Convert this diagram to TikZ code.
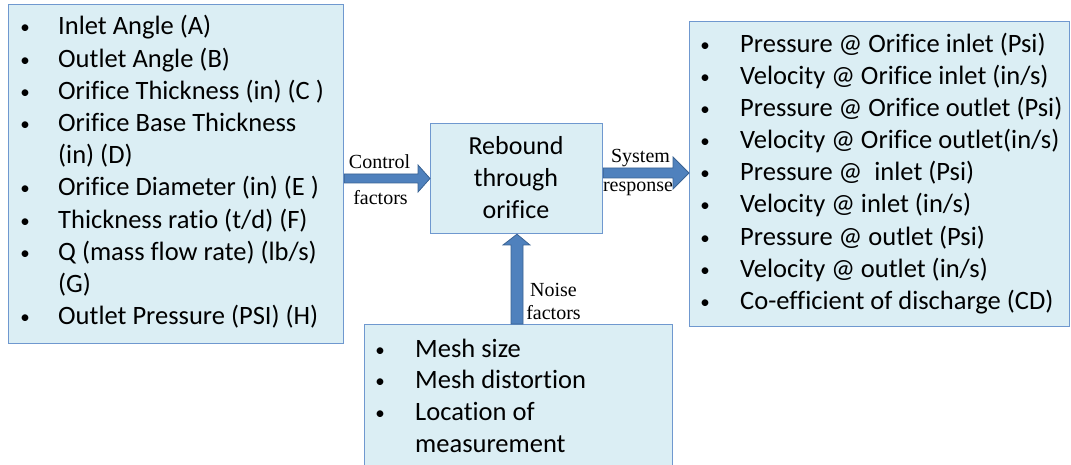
\documentclass[tikz,border=0pt]{standalone}
\usepackage{fontspec}
\setmainfont{Carlito}[Ligatures=NoCommon]
\newfontfamily\timesfont{Liberation Serif}
\definecolor{boxfill}{HTML}{DBEEF4}
\definecolor{boxline}{HTML}{6F98CF}
\definecolor{arrfill}{HTML}{4F81BD}
\definecolor{arrline}{HTML}{3A6393}
\begin{document}
\begin{tikzpicture}[x=1pt,y=-1pt,
  box/.style={draw=boxline, fill=boxfill, line width=1.2pt, inner sep=0pt, anchor=north west},
  item/.style={anchor=base west, inner sep=0pt, font=\fontsize{26.5}{31}\selectfont},
  bul/.style={anchor=base, inner sep=0pt, font=\fontsize{19}{31}\selectfont},
  ctr/.style={anchor=base, inner sep=0pt, font=\fontsize{26}{31}\selectfont},
  lbl/.style={anchor=base, inner sep=0pt, font=\timesfont\fontsize{20}{24}\selectfont},
  blk/.style={draw=arrline, fill=arrfill, line width=0.8pt, line join=miter}]
\useasboundingbox (0,0) rectangle (1071,465);
% boxes
\node[box, minimum width=335pt, minimum height=339pt] (L) at (8,4) {};
\node[box, minimum width=172pt, minimum height=110pt] (C) at (430,123) {};
\node[box, minimum width=380pt, minimum height=305pt] (R) at (689,21) {};
\node[box, minimum width=308pt, minimum height=160pt] (B) at (364,324) {};
% left list
\foreach \t [count=\i] in {{Inlet Angle (A)},{Outlet Angle (B)},{Orifice Thickness (in) (C )},{Orifice Base Thickness},{(in) (D)},{Orifice Diameter (in) (E )},{Thickness ratio (t/d) (F)},{Q (mass flow rate) (lb/s)},{(G)},{Outlet Pressure (PSI) (H)}}
  \node[item] (Lt\i) at (58,{35+32.2*(\i-1)}) {\t};
\foreach \i in {1,2,3,4,6,7,8,10}
  \node[bul] (Lb\i) at (25,{34+32.2*(\i-1)}) {\textbullet};
% right list
\foreach \t [count=\i] in {{Pressure @ Orifice inlet (Psi)},{Velocity @ Orifice inlet (in/s)},{Pressure @ Orifice outlet (Psi)},{Velocity @ Orifice outlet(in/s)},{Pressure @\ \ inlet (Psi)},{Velocity @ inlet (in/s)},{Pressure @ outlet (Psi)},{Velocity @ outlet (in/s)},{Co-efficient of discharge (CD)}}
  {\node[item] (Rt\i) at (740,{52.5+32.1*(\i-1)}) {\t};
   \node[bul] (Rb\i) at (705,{51.5+32.1*(\i-1)}) {\textbullet};}
% center
\node[ctr] (C1) at (516,155) {Rebound};
\node[ctr] (C2) at (516,187) {through};
\node[ctr] (C3) at (516,219) {orifice};
% bottom list
\foreach \t [count=\i] in {{Mesh size},{Mesh distortion},{Location of},{measurement}}
  \node[item] (Bt\i) at (415,{357+31.7*(\i-1)}) {\t};
\foreach \i in {1,2,3}
  \node[bul] (Bb\i) at (380,{356+31.7*(\i-1)}) {\textbullet};
% block arrows
\filldraw[blk] (L.east |- 0,174) -- (418,174) -- (418,165) -- (C.west |- 0,178.5) -- (418,192) -- (418,183) -- (L.east |- 0,183) -- cycle;
\filldraw[blk] (C.east |- 0,168) -- (673,168) -- (673,157) -- (R.west |- 0,173) -- (673,189) -- (673,178) -- (C.east |- 0,178) -- cycle;
\filldraw[blk] (511,0 |- B.north) -- (511,245) -- (503,245) -- (517,0 |- C.south) -- (530,245) -- (523,245) -- (523,0 |- B.north) -- cycle;
% labels
\node[lbl] (lc1) at (379.5,169) {Control};
\node[lbl] (lc2) at (380.5,205) {factors};
\node[lbl] (ls1) at (640.5,163) {System};
\node[lbl] (ls2) at (638,192) {response};
\node[lbl] (ln1) at (553.5,296) {Noise};
\node[lbl] (ln2) at (553.5,319) {factors};
\end{tikzpicture}
\end{document}
